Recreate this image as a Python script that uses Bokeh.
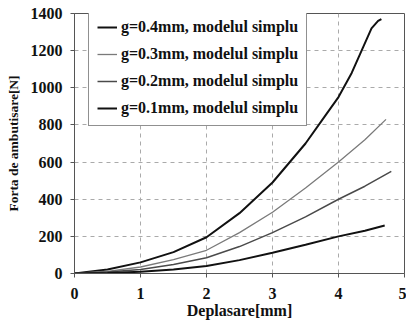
from bokeh.plotting import figure
from bokeh.models import Range1d, Legend, LegendItem, FixedTicker
from bokeh.embed import file_html
from bokeh.resources import INLINE

# Data
x_g04 = [0, 0.5, 1, 1.5, 2, 2.5, 3, 3.5, 3.8, 4.0, 4.2, 4.35, 4.5, 4.6, 4.65]
y_g04 = [0, 22, 60, 115, 195, 325, 490, 700, 850, 950, 1080, 1200, 1320, 1360, 1370]

x_g03 = [0, 0.5, 1, 1.5, 2, 2.5, 3, 3.5, 4, 4.4, 4.72]
y_g03 = [0, 12, 35, 75, 125, 220, 330, 460, 600, 720, 830]

x_g02 = [0, 0.5, 1, 1.5, 2, 2.5, 3, 3.5, 4, 4.4, 4.8]
y_g02 = [0, 8, 22, 48, 85, 145, 220, 305, 400, 470, 550]

x_g01 = [0, 0.5, 1, 1.5, 2, 2.5, 3, 3.5, 4, 4.4, 4.7]
y_g01 = [0, 3, 10, 22, 40, 72, 112, 155, 200, 230, 258]

labels = ["g=0.4mm, modelul simplu", "g=0.3mm, modelul simplu",
          "g=0.2mm, modelul simplu", "g=0.1mm, modelul simplu"]
x_ticks = [0, 1, 2, 3, 4, 5]
y_ticks = [0, 200, 400, 600, 800, 1000, 1200, 1400]

FONT = "Liberation Serif"

p = figure(width=406, height=322, output_backend="svg", toolbar_location=None,
           x_range=Range1d(0, 5), y_range=Range1d(0, 1400),
           min_border_left=74, min_border_right=2, min_border_top=13, min_border_bottom=49)

p.outline_line_color = "#555555"
p.outline_line_width = 1

r1 = p.line(x_g04, y_g04, line_color="#111111", line_width=2)
r2 = p.line(x_g03, y_g03, line_color="#7a7a7a", line_width=1.3)
r3 = p.line(x_g02, y_g02, line_color="#4a4a4a", line_width=1.5)
r4 = p.line(x_g01, y_g01, line_color="#111111", line_width=2)

for ax in (p.xaxis[0], p.yaxis[0]):
    ax.major_label_text_font = FONT
    ax.major_label_text_font_style = "bold"
    ax.major_label_text_font_size = "16px"
    ax.major_label_text_color = "#111111"
    ax.axis_label_text_font = FONT
    ax.axis_label_text_font_style = "bold"
    ax.axis_label_text_color = "#111111"
    ax.axis_line_color = "#555555"
    ax.major_tick_line_color = "#555555"
    ax.major_tick_out = 4
    ax.major_tick_in = 0
    ax.minor_tick_line_color = None

p.xaxis.axis_label_text_font_size = "16px"
p.yaxis.axis_label_text_font_size = "13.5px"
p.xaxis.ticker = FixedTicker(ticks=x_ticks)
p.yaxis.ticker = FixedTicker(ticks=y_ticks)
p.xaxis.axis_label = "Deplasare[mm]"
p.yaxis.axis_label = "Forta de ambutisare[N]"
p.xaxis.major_label_standoff = 10
p.xaxis.axis_label_standoff = 0
p.yaxis.major_label_standoff = 8
p.yaxis.axis_label_standoff = 7

for g in (p.xgrid[0], p.ygrid[0]):
    g.grid_line_color = "#aaaaaa"
    g.grid_line_dash = "4 4"
    g.grid_line_width = 1

legend = Legend(items=[
    LegendItem(label=labels[0], renderers=[r1]),
    LegendItem(label=labels[1], renderers=[r2]),
    LegendItem(label=labels[2], renderers=[r3]),
    LegendItem(label=labels[3], renderers=[r4]),
], location=(14, 147))
legend.label_text_font = FONT
legend.label_text_font_style = "bold"
legend.label_text_font_size = "16px"
legend.label_text_color = "#111111"
legend.border_line_color = "#222222"
legend.border_line_width = 1
legend.background_fill_alpha = 1
legend.padding = 8
legend.spacing = 9
legend.glyph_height = 18
legend.label_height = 18
legend.glyph_width = 20
legend.label_standoff = 4
legend.margin = 0
p.add_layout(legend, "center")

open("out.html", "w").write(file_html(p, INLINE))
